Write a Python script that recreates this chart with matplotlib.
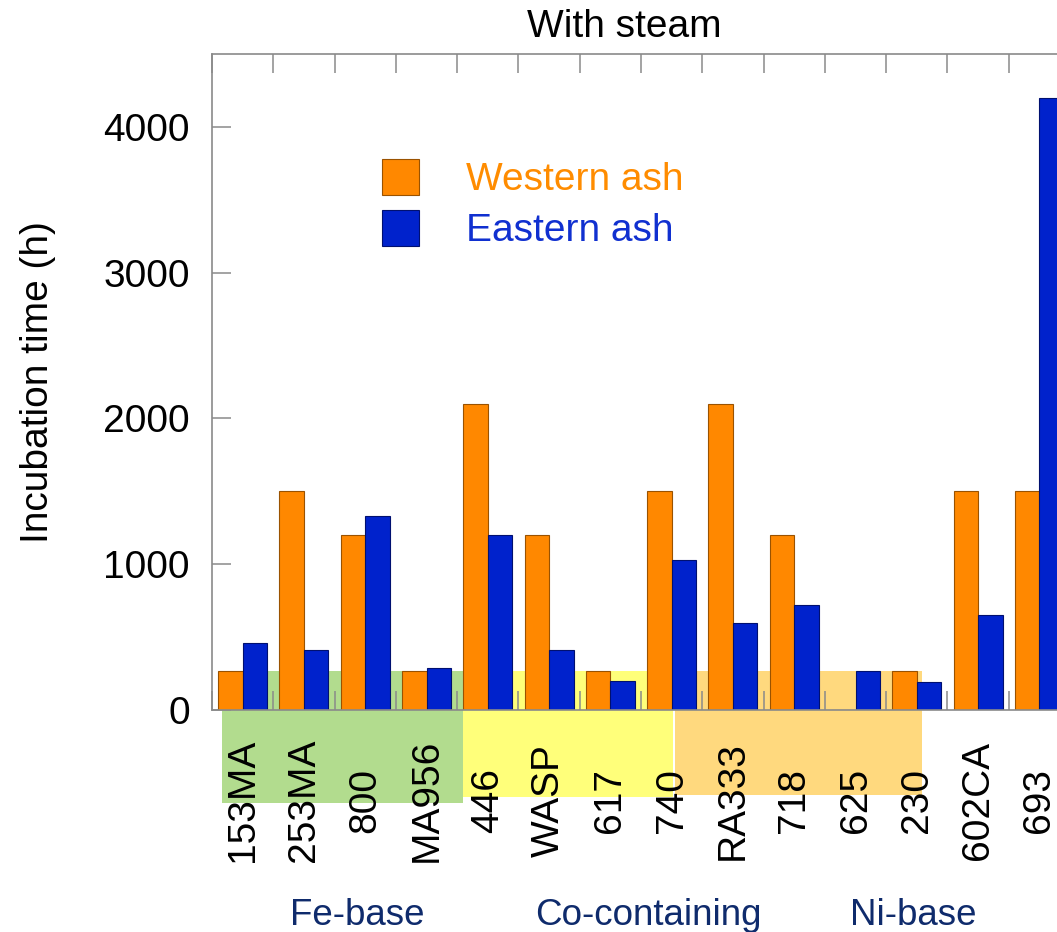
import numpy as np
import matplotlib.pyplot as plt
from matplotlib.patches import Rectangle

plt.rcParams['font.family'] = ['Liberation Sans', 'DejaVu Sans']

# Incubation time (h) per alloy, with steam
alloys = ["153MA", "253MA", "800", "MA956", "446", "WASP", "617", "740",
          "RA333", "718", "625", "230", "602CA", "693"]
western_ash = [270, 1500, 1200, 270, 2100, 1200, 270, 1500, 2100, 1200, 0, 270, 1500, 1500]
eastern_ash = [460, 410, 1330, 290, 1200, 410, 200, 1030, 600, 720, 270, 190, 650, 4200]

# Alloy families shaded behind the bars
group_names = ["Fe-base", "Co-containing", "Ni-base"]
group_colors = ["#B2DC8E", "#FFFF7A", "#FFD97E"]

ORANGE = "#FF8800"
BLUE = "#0022CC"
SPINE = "#8A8A8A"
NAVY = "#0F2B6C"

W, H = 1057, 932
fig = plt.figure(figsize=(W / 100, H / 100), dpi=100)
ax = fig.add_axes([212 / W, 1 - 710 / H, 858 / W, 656 / H])

x = np.arange(len(alloys))
bw = 0.40
ax.bar(x, western_ash, width=-bw, align='edge', color=ORANGE,
       edgecolor="#9A5200", linewidth=0.8, zorder=2)
ax.bar(x, eastern_ash, width=bw, align='edge', color=BLUE,
       edgecolor="#001070", linewidth=0.8, zorder=2)

# family boxes: (left, right, bottom) in data units, top at 270 h
spans = [(-0.33, 3.60, -635), (3.60, 7.02, -595), (7.05, 11.08, -583)]
for (x0, x1, y0), c in zip(spans, group_colors):
    ax.add_patch(Rectangle((x0, y0), x1 - x0, 270 - y0, facecolor=c,
                           edgecolor='none', zorder=0.5, clip_on=False))

ax.set_xlim(-0.5, len(alloys) - 0.5)
ax.set_ylim(0, 4500)

ax.set_yticks([0, 1000, 2000, 3000, 4000])
ax.tick_params(axis='y', direction='in', length=14, width=1.1, color=SPINE,
               labelsize=28, pad=16, right=False)

ax.set_xticks(x, alloys, rotation=90, va='center', ha='center')
ax.tick_params(axis='x', which='major', length=0, labelsize=28, pad=65)
ax.set_xticks(np.arange(len(alloys) + 1) - 0.5, minor=True)
ax.tick_params(axis='x', which='minor', direction='in', length=14, width=1.1,
               color=SPINE, top=True, bottom=True)

for s in ax.spines.values():
    s.set_color(SPINE)
    s.set_linewidth(1.2)

ax.set_ylabel("Incubation time (h)", fontsize=28, labelpad=34)

handles = [Rectangle((0, 0), 1, 1, facecolor=ORANGE, edgecolor="#9A5200", linewidth=0.8),
           Rectangle((0, 0), 1, 1, facecolor=BLUE, edgecolor="#001070", linewidth=0.8)]
leg = ax.legend(handles, ["Western ash", "Eastern ash"], loc='upper left',
                bbox_to_anchor=(382 / W, 1 - 159 / H), bbox_transform=fig.transFigure,
                frameon=False, fontsize=28, borderpad=0, borderaxespad=0,
                handlelength=0.95, handleheight=1.05, handletextpad=1.2,
                labelspacing=0.3)
for t, c in zip(leg.get_texts(), ["#FF8C00", "#1030D0"]):
    t.set_color(c)

fig.text(624 / W, 1 - 37 / H, "With steam", ha='center', va='baseline', fontsize=28)

for name, cx in zip(group_names, [357, 648, 913]):
    fig.text(cx / W, 1 - 925 / H, name, ha='center', va='baseline',
             fontsize=26.5, color=NAVY)

fig.savefig("out.png", dpi=100)
